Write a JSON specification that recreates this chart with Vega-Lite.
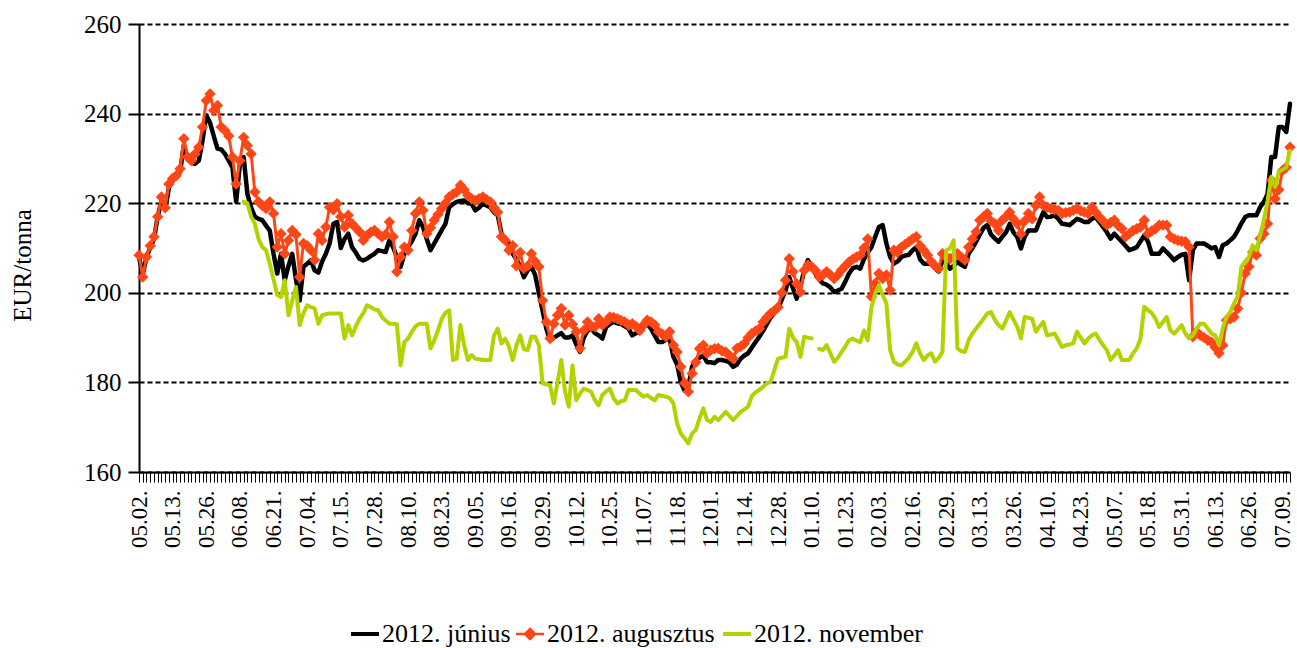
{
"$schema": "https://vega.github.io/schema/vega-lite/v6.json",
"width": 1151, "height": 448,
"autosize": {"type": "none"},
"padding": {"left": 139, "top": 24, "right": 7, "bottom": 176},
"background": "white",
"config": {"view": {"stroke": null}, "font": "Liberation Serif"},
"data": {"values": [
{"i":0,"j":208,"a":208.4},{"i":1,"j":204,"a":203.5},{"i":2,"j":208,"a":208},{"i":3,"j":210,"a":210.5},{"i":4,"j":212,"a":212.5},{"i":5,"j":217,"a":217},{"i":6,"j":220.5,"a":221.4},{"i":7,"j":218.5,"a":219},{"i":8,"j":223.5,"a":224.3},{"i":9,"j":225,"a":225.5},
{"i":10,"j":226,"a":226.2},{"i":11,"j":227,"a":227.7},{"i":12,"j":233,"a":234.4},{"i":13,"j":230,"a":230.3},{"i":14,"j":229,"a":229.5},{"i":15,"j":228.8,"a":231},{"i":16,"j":229.5,"a":232.5},{"i":17,"j":234,"a":237},{"i":18,"j":239.6,"a":242.9},{"i":19,"j":238,"a":244.4},
{"i":20,"j":235,"a":240.7},{"i":21,"j":232.2,"a":241.8},{"i":22,"j":232,"a":237},{"i":23,"j":231,"a":236.2},{"i":24,"j":229.5,"a":235},{"i":25,"j":228,"a":230.3},{"i":26,"j":220.3,"a":224.3},{"i":27,"j":228.8,"a":229.5},{"i":28,"j":230.3,"a":234.7,"n":220.3},{"i":29,"j":222.1,"a":232.9,"n":220},
{"i":30,"j":219,"a":231,"n":217},{"i":31,"j":217,"a":222.5,"n":215.4},{"i":32,"j":216.5,"a":220.3,"n":212},{"i":33,"j":216.2,"a":219.5,"n":210.2},{"i":34,"j":215,"a":218.8,"n":209.5},{"i":35,"j":213.9,"a":220.3,"n":206.5},{"i":36,"j":208.7,"a":217.7,"n":203},{"i":37,"j":204.3,"a":210.2,"n":199.5},{"i":38,"j":208.7,"a":213.2,"n":199.1},{"i":39,"j":202.8,"a":208.7,"n":202.8},
{"i":40,"j":206,"a":211.7,"n":195},{"i":41,"j":208.7,"a":213.9,"n":198.3},{"i":42,"j":203,"a":213,"n":201.3},{"i":43,"j":198.3,"a":203.5,"n":192.8},{"i":44,"j":205.8,"a":211,"n":195.4},{"i":45,"j":206.5,"a":210.5,"n":197.2},{"i":46,"j":207.3,"a":209.5,"n":196.8},{"i":47,"j":205,"a":207.3,"n":196.5},{"i":48,"j":204.5,"a":213.2,"n":193.1},{"i":49,"j":207,"a":211.7,"n":195},
{"i":50,"j":208.7,"a":214.7,"n":195.2},{"i":51,"j":211,"a":219.1,"n":195.4},{"i":52,"j":215.4,"a":218.5,"n":195.4},{"i":53,"j":215.8,"a":219.9,"n":195.4},{"i":54,"j":210,"a":217,"n":195.4},{"i":55,"j":212,"a":214.7,"n":189.8},{"i":56,"j":213.2,"a":217.3,"n":192.8},{"i":57,"j":210.2,"a":215.4,"n":190.5},{"i":58,"j":209,"a":214.5,"n":192.5},{"i":59,"j":207.6,"a":213.6,"n":194.2},
{"i":60,"j":207.2,"a":211.7,"n":195.4},{"i":61,"j":207.6,"a":212.8,"n":197.2},{"i":62,"j":208.2,"a":213.5,"n":196.8},{"i":63,"j":208.7,"a":213.9,"n":196.3},{"i":64,"j":209.5,"a":213.2,"n":196.1},{"i":65,"j":209.3,"a":212.5,"n":194.6},{"i":66,"j":209.1,"a":213,"n":193.8},{"i":67,"j":211.7,"a":215.8,"n":193.1},{"i":68,"j":210.2,"a":212.5,"n":193.1},{"i":69,"j":208,"a":204.7,"n":193},
{"i":70,"j":205.8,"a":208,"n":183.8},{"i":71,"j":208.7,"a":210.2,"n":189},{"i":72,"j":210.2,"a":209.5,"n":189.8},{"i":73,"j":211.5,"a":213.9,"n":191.3},{"i":74,"j":213.2,"a":217.7,"n":192.5},{"i":75,"j":216.2,"a":220.3,"n":193.1},{"i":76,"j":214.7,"a":218.4,"n":193.1},{"i":77,"j":212,"a":213.2,"n":193.1},{"i":78,"j":209.5,"a":214.5,"n":187.6},{"i":79,"j":211,"a":216.2,"n":189.4},
{"i":80,"j":212.5,"a":217.5,"n":191.6},{"i":81,"j":214,"a":218.8,"n":194.2},{"i":82,"j":215.4,"a":220,"n":195.5},{"i":83,"j":219.1,"a":221.4,"n":196.1},{"i":84,"j":219.8,"a":222,"n":185},{"i":85,"j":220.3,"a":222.5,"n":185.3},{"i":86,"j":220.5,"a":224,"n":192.8},{"i":87,"j":220.6,"a":223,"n":188.3},{"i":88,"j":220,"a":221.7,"n":185},{"i":89,"j":219.9,"a":221,"n":186.1},
{"i":90,"j":218.4,"a":220.6,"n":185.3},{"i":91,"j":219,"a":221,"n":185.2},{"i":92,"j":219.9,"a":221.4,"n":185},{"i":93,"j":219.5,"a":220.8,"n":185},{"i":94,"j":219.1,"a":220.3,"n":185},{"i":95,"j":218,"a":219,"n":190.5},{"i":96,"j":217.3,"a":218,"n":192},{"i":97,"j":213.2,"a":212.5,"n":188.7},{"i":98,"j":212,"a":211.7,"n":189.8},{"i":99,"j":211,"a":209.5,"n":188},
{"i":100,"j":208.7,"a":210.5,"n":185},{"i":101,"j":207.5,"a":206,"n":188.3},{"i":102,"j":205.8,"a":209,"n":190.5},{"i":103,"j":203.5,"a":205.4,"n":187.4},{"i":104,"j":205,"a":206,"n":187.2},{"i":105,"j":205.8,"a":208.7,"n":190.2},{"i":106,"j":204,"a":207,"n":190.2},{"i":107,"j":200,"a":205.8,"n":188.3},{"i":108,"j":196,"a":198.3,"n":179.8},{"i":109,"j":192,"a":193.5,"n":179.6},
{"i":110,"j":189.4,"a":189.8,"n":179.4},{"i":111,"j":190,"a":193.1,"n":175.3},{"i":112,"j":190.5,"a":195,"n":180},{"i":113,"j":191,"a":196.5,"n":185},{"i":114,"j":190,"a":192.8,"n":178},{"i":115,"j":190,"a":195,"n":174.6},{"i":116,"j":190.5,"a":193,"n":183.8},{"i":117,"j":188.5,"a":191.3,"n":176},{"i":118,"j":186.8,"a":187.6,"n":177.5},{"i":119,"j":190,"a":191.6,"n":178.6},
{"i":120,"j":191.5,"a":193.5,"n":178.3},{"i":121,"j":192,"a":192.5,"n":177.9},{"i":122,"j":191,"a":192.4,"n":176},{"i":123,"j":190.5,"a":194.2,"n":174.9},{"i":124,"j":189.8,"a":192.8,"n":177.2},{"i":125,"j":192.4,"a":193.5,"n":178},{"i":126,"j":193,"a":194.6,"n":178.6},{"i":127,"j":193.5,"a":194.5,"n":176.5},{"i":128,"j":193.2,"a":194.2,"n":175.3},{"i":129,"j":193,"a":193.8,"n":175.8},
{"i":130,"j":192.5,"a":193.5,"n":176},{"i":131,"j":192,"a":192.8,"n":178.3},{"i":132,"j":190.5,"a":193.1,"n":178.3},{"i":133,"j":191,"a":192.5,"n":178.3},{"i":134,"j":191.3,"a":191.6,"n":177.5},{"i":135,"j":192.5,"a":192.8,"n":176.8},{"i":136,"j":193,"a":193.9,"n":177.2},{"i":137,"j":192,"a":193.5,"n":176.5},{"i":138,"j":190.5,"a":192.8,"n":176},{"i":139,"j":189,"a":191.3,"n":177.2},
{"i":140,"j":189,"a":190.8,"n":177},{"i":141,"j":189.5,"a":190.2,"n":176.8},{"i":142,"j":189.8,"a":191.3,"n":176.5},{"i":143,"j":185.7,"a":188.3,"n":175.3},{"i":144,"j":184,"a":186.8,"n":170.8},{"i":145,"j":180,"a":183.5,"n":168.6},{"i":146,"j":178.2,"a":179.8,"n":167.5},{"i":147,"j":179,"a":177.9,"n":166.4},{"i":148,"j":183.5,"a":182,"n":168.6},{"i":149,"j":185,"a":184.5,"n":169.4},
{"i":150,"j":185.5,"a":187.5,"n":172},{"i":151,"j":186,"a":188.3,"n":174.2},{"i":152,"j":184.5,"a":186.5,"n":171.6},{"i":153,"j":184.5,"a":187.2,"n":171.2},{"i":154,"j":184.3,"a":187.5,"n":172.3},{"i":155,"j":185,"a":187.6,"n":171.6},{"i":156,"j":185,"a":187,"n":172.5},{"i":157,"j":184.8,"a":186.8,"n":173.4},{"i":158,"j":184.5,"a":186,"n":172.5},{"i":159,"j":183.5,"a":185.3,"n":171.6},
{"i":160,"j":184,"a":187.6,"n":172.5},{"i":161,"j":185.3,"a":188,"n":173.4},{"i":162,"j":186,"a":188.7,"n":174},{"i":163,"j":186.5,"a":190,"n":174.6},{"i":164,"j":187.8,"a":190.9,"n":177},{"i":165,"j":189,"a":191.5,"n":177.8},{"i":166,"j":190.2,"a":192,"n":178.3},{"i":167,"j":191.5,"a":193.5,"n":179},{"i":168,"j":193,"a":194.5,"n":179.8},{"i":169,"j":194.5,"a":195.4,"n":180.1},
{"i":170,"j":195.5,"a":196,"n":182.7},{"i":171,"j":196.5,"a":196.8,"n":185.3},{"i":172,"j":198.5,"a":200,"n":185.5},{"i":173,"j":200.5,"a":202.8,"n":185.7},{"i":174,"j":203.5,"a":207.6,"n":192},{"i":175,"j":201,"a":204.7,"n":190},{"i":176,"j":198.7,"a":202,"n":189},{"i":177,"j":201.5,"a":200.2,"n":185.7},{"i":178,"j":205,"a":205,"n":190.2},{"i":179,"j":207.3,"a":206.2,"n":190},
{"i":180,"j":205.5,"a":205.8,"n":189.8},{"i":181,"j":204.3,"a":205,"n":null},{"i":182,"j":203,"a":203.5,"n":187.5},{"i":183,"j":202.1,"a":204,"n":187.2},{"i":184,"j":201.8,"a":204.7,"n":188.3},{"i":185,"j":201.2,"a":204,"n":186.5},{"i":186,"j":200.2,"a":203.2,"n":184.6},{"i":187,"j":200.5,"a":204,"n":185.5},{"i":188,"j":200.9,"a":205.1,"n":186.8},{"i":189,"j":202.5,"a":206,"n":188},
{"i":190,"j":204.3,"a":206.9,"n":189.4},{"i":191,"j":205.5,"a":207.5,"n":189.8},{"i":192,"j":205.8,"a":208,"n":189.3},{"i":193,"j":205.4,"a":208.4,"n":189},{"i":194,"j":207.5,"a":210,"n":191.6},{"i":195,"j":209,"a":212,"n":189.4},{"i":196,"j":210.2,"a":199.1,"n":196.8},{"i":197,"j":212.5,"a":202.1,"n":199.8},{"i":198,"j":214.7,"a":204.3,"n":201.7},{"i":199,"j":215.1,"a":203.2,"n":199.5},
{"i":200,"j":211,"a":204,"n":197.6},{"i":201,"j":208,"a":200.6,"n":187.2},{"i":202,"j":206.5,"a":209.5,"n":184.6},{"i":203,"j":207,"a":209,"n":184},{"i":204,"j":208,"a":210.2,"n":183.8},{"i":205,"j":208.3,"a":210.8,"n":184.6},{"i":206,"j":208.5,"a":211.4,"n":185.5},{"i":207,"j":209.5,"a":212,"n":186.8},{"i":208,"j":210.2,"a":212.5,"n":188.7},{"i":209,"j":207.5,"a":210.5,"n":186.5},
{"i":210,"j":206.5,"a":209.5,"n":185},{"i":211,"j":206.5,"a":208.4,"n":186},{"i":212,"j":206.5,"a":207,"n":186.5},{"i":213,"j":205.5,"a":206,"n":184.6},{"i":214,"j":204.7,"a":205.4,"n":185.5},{"i":215,"j":207.3,"a":208.7,"n":186.8},{"i":216,"j":206.5,"a":208,"n":209.5},{"i":217,"j":205.4,"a":207.6,"n":209.9},{"i":218,"j":206,"a":208,"n":211.7},{"i":219,"j":206.9,"a":208.7,"n":187.6},
{"i":220,"j":206.3,"a":208,"n":187},{"i":221,"j":205.8,"a":207.3,"n":186.8},{"i":222,"j":208.7,"a":210.2,"n":189.4},{"i":223,"j":210,"a":212,"n":190.9},{"i":224,"j":211.4,"a":213.6,"n":192},{"i":225,"j":213,"a":216.2,"n":193.1},{"i":226,"j":214.5,"a":217,"n":194.2},{"i":227,"j":215.1,"a":217.7,"n":195.4},{"i":228,"j":213,"a":216,"n":195.7},{"i":229,"j":212.1,"a":215.4,"n":194},
{"i":230,"j":211.4,"a":213.9,"n":192.8},{"i":231,"j":212.5,"a":216.2,"n":192},{"i":232,"j":213.5,"a":217,"n":193.8},{"i":233,"j":215.4,"a":218,"n":195.7},{"i":234,"j":213.5,"a":216.5,"n":194},{"i":235,"j":212.5,"a":215.4,"n":192.4},{"i":236,"j":209.9,"a":213.2,"n":189.8},{"i":237,"j":212.5,"a":216,"n":194.6},{"i":238,"j":213.9,"a":217.7,"n":194.4},{"i":239,"j":213.9,"a":216.5,"n":194.2},
{"i":240,"j":213.9,"a":219.5,"n":191.3},{"i":241,"j":216,"a":221.4,"n":192.5},{"i":242,"j":218,"a":219.5,"n":193.5},{"i":243,"j":216.9,"a":219.1,"n":190.5},{"i":244,"j":217,"a":218.8,"n":190.7},{"i":245,"j":217.3,"a":218.6,"n":190.9},{"i":246,"j":216.5,"a":218.4,"n":189.4},{"i":247,"j":215.4,"a":217.7,"n":187.9},{"i":248,"j":215.3,"a":217.9,"n":188.3},{"i":249,"j":215.1,"a":218,"n":188.5},
{"i":250,"j":215.8,"a":218.4,"n":188.7},{"i":251,"j":216.5,"a":218.8,"n":191.3},{"i":252,"j":216.2,"a":218.3,"n":190},{"i":253,"j":215.8,"a":218,"n":188.7},{"i":254,"j":215.8,"a":217.7,"n":189.8},{"i":255,"j":216.5,"a":219.1,"n":190.5},{"i":256,"j":216.9,"a":218,"n":190.9},{"i":257,"j":215.8,"a":216.9,"n":189.5},{"i":258,"j":214.7,"a":216,"n":188.3},{"i":259,"j":213.5,"a":215.1,"n":187.2},
{"i":260,"j":212.1,"a":215.7,"n":185},{"i":261,"j":213.2,"a":216.2,"n":186},{"i":262,"j":212.3,"a":215,"n":187.2},{"i":263,"j":211.4,"a":214.3,"n":185},{"i":264,"j":210.5,"a":212.5,"n":185},{"i":265,"j":209.5,"a":213.2,"n":185},{"i":266,"j":209.8,"a":213.9,"n":186.5},{"i":267,"j":210.2,"a":214.3,"n":187.6},{"i":268,"j":211.5,"a":214.7,"n":189.8},{"i":269,"j":212.8,"a":216.2,"n":196.9},
{"i":270,"j":211.4,"a":213.2,"n":196.1},{"i":271,"j":208.7,"a":213.8,"n":195.5},{"i":272,"j":208.7,"a":214.3,"n":194.2},{"i":273,"j":208.7,"a":215.1,"n":192.4},{"i":274,"j":209.9,"a":215.1,"n":193.5},{"i":275,"j":209.1,"a":215.1,"n":194.6},{"i":276,"j":208.2,"a":212.5,"n":191.6},{"i":277,"j":207.3,"a":212,"n":190.9},{"i":278,"j":208,"a":211.7,"n":191.8},{"i":279,"j":208.5,"a":211.5,"n":192.8},
{"i":280,"j":208.7,"a":211.4,"n":190.9},{"i":281,"j":202.8,"a":210.2,"n":189.8},{"i":282,"j":209.5,"a":190.2,"n":190.5},{"i":283,"j":211,"a":191.3,"n":192},{"i":284,"j":211,"a":190.5,"n":193.1},{"i":285,"j":211,"a":190,"n":193.1},{"i":286,"j":210.5,"a":189.4,"n":192},{"i":287,"j":209.9,"a":189,"n":190.9},{"i":288,"j":210.2,"a":187.8,"n":190.5},{"i":289,"j":208,"a":186.5,"n":188.3},
{"i":290,"j":210.6,"a":188.3,"n":192},{"i":291,"j":211,"a":193.9,"n":194.6},{"i":292,"j":211.7,"a":194.2,"n":195.7},{"i":293,"j":212.5,"a":194.6,"n":197.6},{"i":294,"j":213.9,"a":196.5,"n":199.1},{"i":295,"j":215.5,"a":200,"n":205.8},{"i":296,"j":216.9,"a":204.3,"n":207},{"i":297,"j":217.3,"a":205.8,"n":208},{"i":298,"j":217.3,"a":209.1,"n":210.6},{"i":299,"j":217.3,"a":208.4,"n":209.5},
{"i":300,"j":219.1,"a":212.1,"n":212.8},{"i":301,"j":220.3,"a":213.2,"n":216.2},{"i":302,"j":222,"a":215.4,"n":220.6},{"i":303,"j":230.3,"a":225.1,"n":225.9},{"i":304,"j":230.3,"a":221,"n":223.6},{"i":305,"j":237,"a":223,"n":227},{"i":306,"j":237,"a":227.3,"n":227.5},{"i":307,"j":235.9,"a":228,"n":228},{"i":308,"j":242.2,"a":232.5,"n":231.7}
]},
"transform": [{"fold": ["j", "a", "n"], "as": ["key", "v"]}],
"encoding": {
  "x": {"field": "i", "type": "ordinal", "scale": {"type": "point", "padding": 0},
    "axis": {"title": null, "grid": false, "labelAngle": -90, "labelFontSize": 23, "labelFont": "Liberation Serif", "labelColor": "black",
      "labelPadding": 8, "labelOverlap": false, "labelBound": false, "labelFlush": false,
      "tickSize": 10, "tickWidth": 1, "tickColor": "black", "domainColor": "black", "domainWidth": 2,
      "labelExpr": "datum.value % 9 === 0 ? ['05.02.','05.13.','05.26.','06.08.','06.21.','07.04.','07.15.','07.28.','08.10.','08.23.','09.05.','09.16.','09.29.','10.12.','10.25.','11.07.','11.18.','12.01.','12.14.','12.28.','01.10.','01.23.','02.03.','02.16.','02.29.','03.13.','03.26.','04.10.','04.23.','05.07.','05.18.','05.31.','06.13.','06.26.','07.09.'][datum.value / 9] : ''"}},
  "y": {"field": "v", "type": "quantitative", "scale": {"domain": [160, 260], "nice": false, "zero": false},
    "axis": {"values": [160, 180, 200, 220, 240, 260], "grid": true, "gridColor": "black", "gridDash": [5, 3], "gridWidth": 2,
      "tickSize": 11, "tickWidth": 2, "tickColor": "black", "domainColor": "black", "domainWidth": 2,
      "labelFontSize": 25, "labelFont": "Liberation Serif", "labelColor": "black", "labelPadding": 7,
      "title": "EUR/tonna", "titleFont": "Liberation Serif", "titleFontSize": 25, "titleFontWeight": "normal", "titleColor": "black",
      "titleX": -117, "titleY": 241, "titleAngle": -90, "titleAlign": "center", "titleBaseline": "middle"}},
  "color": {"field": "key", "type": "nominal",
    "scale": {"domain": ["j", "a", "n"], "range": ["#000000", "#FF4616", "#B4D200"]},
    "legend": {"title": null, "orient": "none", "legendX": 213, "legendY": 597, "direction": "horizontal",
      "symbolType": "stroke", "symbolSize": 784, "symbolStrokeWidth": 4, "labelLimit": 400,
      "labelFontSize": 26, "labelFont": "Liberation Serif", "labelColor": "black", "labelOffset": 4, "columnPadding": 0,
      "labelExpr": "datum.label === 'j' ? '2012. június' : datum.label === 'a' ? '2012. augusztus' : '2012. november'",
      "encode": {"symbols": {"update": {
        "shape": {"signal": "datum.value === 'a' ? 'M-1,0H1M0,-0.36L0.36,0L0,0.36L-0.36,0Z' : 'stroke'"},
        "strokeWidth": {"signal": "datum.value === 'a' ? 2.5 : 4"},
        "fill": {"signal": "datum.value === 'a' ? '#FF4616' : 'transparent'"}}}}}}
},
"layer": [
  {"transform": [{"filter": "datum.key === 'j'"}], "mark": {"type": "line", "strokeWidth": 4.5, "strokeJoin": "round", "strokeCap": "round"}},
  {"transform": [{"filter": "datum.key === 'a'"}], "mark": {"type": "line", "strokeWidth": 3, "strokeJoin": "round"}},
  {"transform": [{"filter": "datum.key === 'a'"}], "mark": {"type": "point", "shape": "diamond", "filled": true, "size": 130, "opacity": 1, "strokeWidth": 0},
    "encoding": {"color": {"value": "#FF4616"}}},
  {"transform": [{"filter": "datum.key === 'n'"}], "mark": {"type": "line", "strokeWidth": 4, "strokeJoin": "round", "strokeCap": "round", "invalid": "break-paths-filter-domains"}}
]
}
